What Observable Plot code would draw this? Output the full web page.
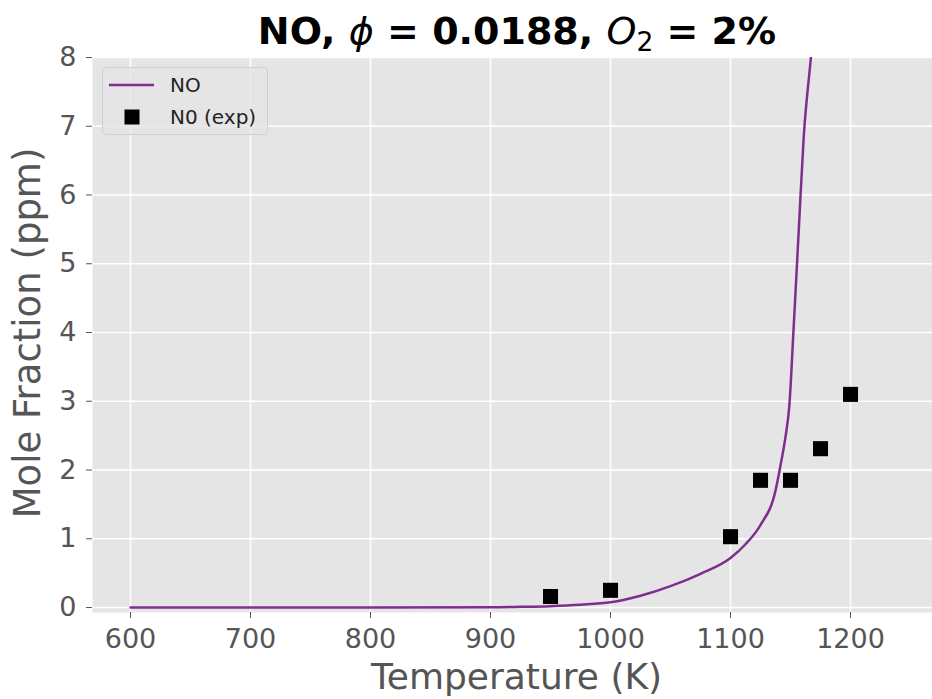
<!DOCTYPE html>
<html>
<head>
<meta charset="utf-8">
<script src="https://cdn.jsdelivr.net/npm/d3@7"></script>
<script src="https://cdn.jsdelivr.net/npm/@observablehq/plot@0.6"></script>
<style>
  html, body { margin: 0; padding: 0; background: #fff; }
  #wrap { position: relative; width: 932px; height: 699px; overflow: hidden; font-family: "DejaVu Sans", sans-serif; }
  #title { position: absolute; left: 517px; top: 33px; transform: translate(-50%, -50%); white-space: nowrap;
           font-size: 38px; font-weight: bold; color: #000; }
  #title i { font-weight: normal; }
  #title sub { font-weight: normal; font-size: 0.7em; vertical-align: -0.25em; }
  #legend { position: absolute; left: 102px; top: 67px; width: 166px; height: 68px; box-sizing: border-box;
            border: 1px solid #d0d0d0; border-radius: 4px; background: rgba(229,229,229,0.8); font-size: 20px; color: #222; }
  .row { position: absolute; left: 0; display: flex; align-items: center; }
  .row span { position: absolute; left: 67px; white-space: nowrap; }
</style>
</head>
<body>
<div id="wrap">
  <div id="chart"></div>
  <div id="title">NO, <i>ϕ</i> = 0.0188, <i>O</i><sub>2</sub> = 2%</div>
  <div id="legend">
    <div class="row" style="top:17px;"><svg width="60" height="4" style="position:absolute;left:5px;top:-2px"><line x1="1" x2="46" y1="2" y2="2" stroke="#7E2F8E" stroke-width="2.5"/></svg><span style="top:-12px">NO</span></div>
    <div class="row" style="top:49px;"><svg width="60" height="20" style="position:absolute;left:5px;top:-10px"><rect x="16.5" y="2.5" width="15" height="15" fill="#000"/></svg><span style="top:-12px">N0 (exp)</span></div>
  </div>
</div>
<script>
// Model curve: NO mole fraction (ppm) vs temperature (K)
const modelT   = [600, 700, 800, 900, 925, 950, 975, 1000, 1025, 1050, 1075, 1100, 1112.5, 1125, 1137.5, 1142, 1146, 1149, 1152.5, 1157, 1161, 1167, 1172];
const modelNO  = [0, 0, 0, 0.003, 0.01, 0.02, 0.04, 0.075, 0.17, 0.31, 0.49, 0.72, 0.92, 1.2, 1.7, 2.1, 2.5, 2.93, 4.03, 5.53, 6.84, 8.0, 9.0];

// Experimental points
const expT  = [950, 1000, 1100, 1125, 1150, 1175, 1200];
const expNO = [0.16, 0.25, 1.03, 1.85, 1.85, 2.31, 3.1];

const xTicks = [600, 700, 800, 900, 1000, 1100, 1200];
const yTicks = [0, 1, 2, 3, 4, 5, 6, 7, 8];

const model = modelT.map((t, i) => ({T: t, v: modelNO[i]}));
const exp = expT.map((t, i) => ({T: t, v: expNO[i]}));

const chart = Plot.plot({
  width: 932,
  height: 699,
  marginTop: 57,
  marginBottom: 87,
  marginLeft: 92,
  marginRight: 0,
  style: {fontFamily: "DejaVu Sans, sans-serif", background: "#fff", overflow: "visible"},
  x: {domain: [568.33, 1268.33], ticks: xTicks},
  y: {domain: [-0.0727, 8], ticks: yTicks},
  marks: [
    Plot.frame({fill: "#E5E5E5", stroke: null}),
    Plot.gridX(xTicks, {stroke: "#fff", strokeOpacity: 1, strokeWidth: 1.5}),
    Plot.gridY(yTicks, {stroke: "#fff", strokeOpacity: 1, strokeWidth: 1.5}),
    Plot.axisX(xTicks, {tickSize: 6, tickPadding: 10, fontSize: 27, color: "#555", stroke: "#555", label: null, tickFormat: d => String(d)}),
    Plot.axisY(yTicks, {tickSize: 6, tickPadding: 10, fontSize: 27, color: "#555", stroke: "#555", label: null, tickFormat: d => String(d)}),
    Plot.line(model, {x: "T", y: "v", stroke: "#7E2F8E", strokeWidth: 2.5, clip: true, curve: "monotone-x"}),
    Plot.dot(exp, {x: "T", y: "v", symbol: "square", r: 8.5, fill: "#000", stroke: null}),
    Plot.text(["Temperature (K)"], {frameAnchor: "bottom", dy: 65, dx: 4, lineAnchor: "middle", textAnchor: "middle", fontSize: 36, fill: "#555"}),
    Plot.text(["Mole Fraction (ppm)"], {frameAnchor: "left", dx: -64, dy: -2, rotate: -90, lineAnchor: "middle", textAnchor: "middle", fontSize: 37, fill: "#555"})
  ]
});
document.getElementById("chart").appendChild(chart);
</script>
</body>
</html>
